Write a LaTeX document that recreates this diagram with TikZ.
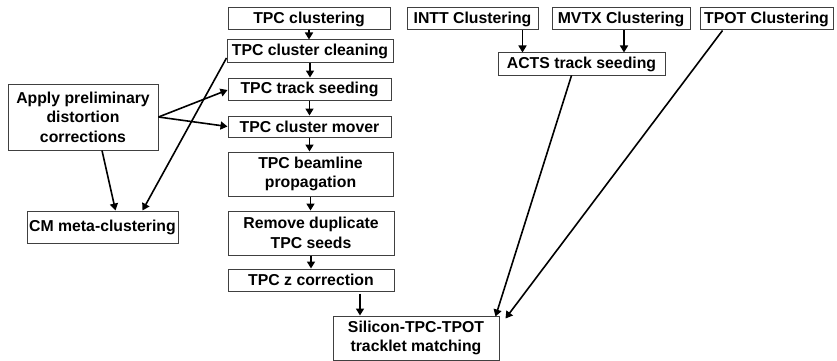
\documentclass[tikz,border=0pt]{standalone}
\usepackage{fontspec}
\setmainfont{Liberation Sans}
\usetikzlibrary{arrows.meta,positioning}
\tikzset{>={Triangle[length=7pt,width=8pt]},
  every node/.style={font=\fontsize{15.8}{19.5}\selectfont\bfseries},
  stage/.style={draw=black!75,line width=1pt,inner sep=0pt,align=center,minimum height=22pt},
  flow/.style={->,line width=1.6pt}}
\begin{document}
\begin{tikzpicture}[x=1pt,y=-1pt]
\useasboundingbox (0,0) rectangle (837,361);
% TPC chain
\node[stage,minimum width=162pt](tpcclus)at(309,19){TPC clustering};
\node[stage,minimum width=166pt](clean)at(310,51){TPC cluster cleaning};
\node[stage,minimum width=163pt](seed)at(309.5,89){TPC track seeding};
\node[stage,minimum width=163pt,minimum height=21pt](mover)at(309.5,126.5){TPC cluster mover};
\node[stage,minimum width=165pt,minimum height=44pt](beam)at(310.5,174){TPC beamline\\propagation};
\node[stage,minimum width=166pt,minimum height=44pt](dup)at(311,233){Remove duplicate\\TPC seeds};
\node[stage,minimum width=166pt](zcorr)at(311,280){TPC z correction};
\node[stage,minimum width=166pt,minimum height=44pt](match)at(416,338){Silicon-TPC-TPOT\\tracklet matching};
% left side
\node[stage,minimum width=150pt,minimum height=66pt](apply)at(83,117){Apply preliminary\\distortion\\corrections};
\node[stage,minimum width=151pt,minimum height=32pt](cm)at(102.5,227){CM meta-clustering};
% silicon + TPOT
\node[stage,minimum width=131pt](intt)at(472.5,19){INTT Clustering};
\node[stage,minimum width=138pt](mvtx)at(621,19){MVTX Clustering};
\node[stage,minimum width=133pt](tpot)at(766.5,19){TPOT Clustering};
\node[stage,minimum width=167pt](acts)at(581.5,64){ACTS track seeding};
\foreach \a/\b in {tpcclus/clean,clean/seed,seed/mover,mover/beam,beam/dup,dup/zcorr}
  \draw[flow](\a.south)--(\a.south|-\b.north);
\coordinate(fi)at([xshift=50pt]intt.south);\coordinate(fm)at([xshift=3pt]mvtx.south);
\coordinate(fz)at([xshift=49pt,yshift=-2pt]zcorr.south);
\draw[flow](fi)--(fi|-acts.north);\draw[flow](fm)--(fm|-acts.north);
\draw[flow](fz)--(fz|-match.north);
\draw[flow]([xshift=-10pt]acts.south)--([xshift=-4pt,yshift=-1pt]match.north east);
\draw[flow]([xshift=-44pt]tpot.south)--([shift={(6pt,-3pt)}]match.north east);
\draw[flow](apply.east)--([yshift=-1pt]seed.west);\draw[flow](apply.east)--(mover.west);
\draw[flow]([xshift=19pt]apply.south)--([xshift=13pt]cm.north);
\draw[flow]([yshift=-7pt]clean.west)--([xshift=40pt]cm.north);
\end{tikzpicture}
\end{document}
